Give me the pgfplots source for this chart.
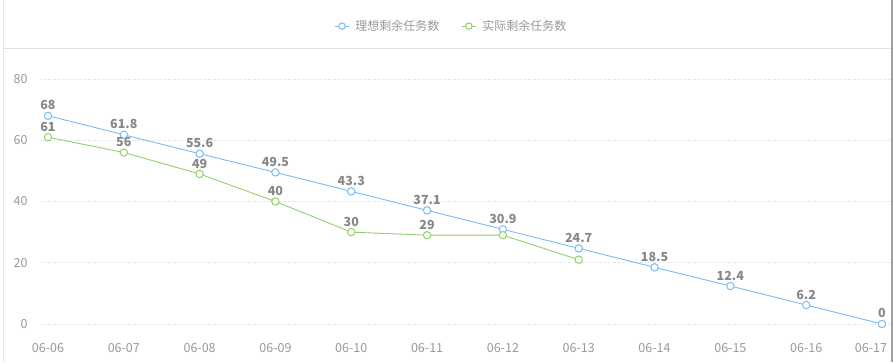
\documentclass[border=0pt]{standalone}
\usepackage{pgfplots}
\pgfplotsset{compat=1.18}
\usepackage{fontspec}
\setmainfont{Noto Sans CJK SC}
\definecolor{ideal}{RGB}{122,188,245}
\definecolor{actual}{RGB}{145,208,108}
\definecolor{ticktxt}{RGB}{153,153,153}
\definecolor{valtxt}{RGB}{135,135,135}
\definecolor{gridc}{RGB}{220,220,220}
\begin{document}
\begin{tikzpicture}[x=1pt,y=1pt]
\begin{axis}[
  at={(40pt,38pt)}, anchor=south west,
  scale only axis, width=851pt, height=245pt,
  xmin=-0.1055, xmax=11.119, ymin=0, ymax=80,
  clip=false,
  axis line style={draw=none},
  major tick length=0pt,
  xtick={0,...,11},
  xticklabels={06-06,06-07,06-08,06-09,06-10,06-11,06-12,06-13,06-14,06-15,06-16,\hspace*{-22pt}06-17},
  ytick={0,20,40,60,80},
  ymajorgrids,
  grid style={gridc, line width=0.6pt, dash pattern=on 1pt off 1.5pt},
  tick label style={font=\fontsize{12.5}{14}\selectfont, text=ticktxt},
  /pgf/number format/assume math mode=true,
  xticklabel style={anchor=base, yshift=-28pt},
  yticklabel style={anchor=east, xshift=-9pt},
  legend style={at={(0.4835,1.216)}, anchor=center, draw=none, fill=none,
    legend columns=2, font=\fontsize{12}{14}\selectfont, text=ticktxt,
    /tikz/every even column/.append style={column sep=20pt},
    legend cell align=left},
  legend image code/.code={\draw[mark repeat=2,mark phase=2, mark size=3.2pt] plot coordinates {(0pt,0pt) (7pt,0pt) (14pt,0pt)};},
  every node near coord/.append style={font=\bfseries\fontsize{12.5}{14}\selectfont, text=valtxt, anchor=south, yshift=2pt},
]
\addplot[ideal, line width=0.9pt, mark=*, mark size=3.7pt, mark options={fill=white, draw=ideal, line width=1pt},
  nodes near coords, point meta=explicit symbolic]
  coordinates {(0,68) [68] (1,61.8) [61.8] (2,55.6) [55.6] (3,49.5) [49.5] (4,43.3) [43.3] (5,37.1) [37.1]
    (6,30.9) [30.9] (7,24.7) [24.7] (8,18.5) [18.5] (9,12.4) [12.4] (10,6.2) [6.2] (11,0) [0]};
\addlegendentry{\hspace*{4pt}理想剩余任务数}
\addplot[actual, line width=0.9pt, mark=*, mark size=3.7pt, mark options={fill=white, draw=actual, line width=1pt}]
  coordinates {(0,61) (1,56) (2,49) (3,40) (4,30) (5,29) (6,29) (7,21)};
\addlegendentry{\hspace*{4pt}实际剩余任务数}
\addplot[draw=none, mark=none, nodes near coords, point meta=explicit symbolic, forget plot]
  coordinates {(0,61) [61] (1,56) [56] (2,49) [49] (3,40) [40] (4,30) [30] (5,29) [29]};
\end{axis}
\draw[draw={rgb,255:red,230;green,230;blue,230}, line width=1pt] (3,0) -- (3,362);
\draw[draw={rgb,255:red,225;green,225;blue,225}, line width=1pt] (3,313) -- (891,313);
\draw[draw={rgb,255:red,160;green,160;blue,160}, line width=1.2pt] (892,0) -- (892,362);
\pgfresetboundingbox
\path (0,0) rectangle (893,362);
\end{tikzpicture}
\end{document}
